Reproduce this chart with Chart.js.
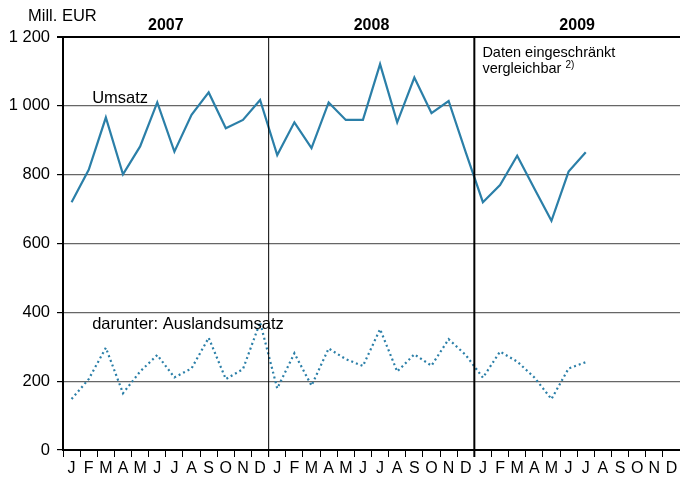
<!DOCTYPE html>
<html lang="de">
<head>
    <meta charset="UTF-8">
    <title>Umsatz</title>
    <script src="https://cdn.jsdelivr.net/npm/chart.js"></script>
    <style>
        body {
            margin: 0;
            padding: 0;
            background-color: #fff;
        }

        .wrap {
            width: 680px;
            height: 480px;
            position: relative;
        }
    </style>
</head>
<body>
    <div class="wrap">
        <canvas id="myChart"></canvas>
    </div>

<script>
    var months = ['J', 'F', 'M', 'A', 'M', 'J', 'J', 'A', 'S', 'O', 'N', 'D'];
    var years = ['2007', '2008', '2009'];
    var labels = months.concat(months, months);

    var umsatz = [
        720, 814, 966, 801, 882, 1010, 867, 974, 1039, 935, 959, 1017,
        857, 952, 877, 1010, 959, 959, 1121, 952, 1082, 979, 1014, 865,
        720, 770, 855, 760, 666, 809, 865, null, null, null, null, null
    ];
    var auslandsumsatz = [
        148, 206, 297, 165, 228, 276, 211, 237, 326, 206, 235, 371,
        179, 281, 187, 295, 264, 244, 351, 228, 278, 245, 322, 276,
        210, 286, 257, 211, 148, 237, 255, null, null, null, null, null
    ];
    var yTicks = [0, 200, 400, 600, 800, 1000, 1200];

    var lineColor = '#2b7fa8';
    var font = "'Liberation Sans', Arial, sans-serif";

    // separators, year labels and notes
    var extras = {
        id: 'extras',
        afterDraw: function(chart) {
            var ctx = chart.ctx;
            var x = chart.scales.x;
            var y = chart.scales.y;
            var area = chart.chartArea;

            ctx.save();
            ctx.strokeStyle = '#000';
            [12, 24].forEach(function(i, n) {
                var px = (x.getPixelForValue(i - 1) + x.getPixelForValue(i)) / 2;
                ctx.lineWidth = n === 0 ? 1 : 2;
                ctx.beginPath();
                ctx.moveTo(px, area.top);
                ctx.lineTo(px, area.bottom + 7);
                ctx.stroke();
            });

            ctx.fillStyle = '#000';
            ctx.textBaseline = 'middle';
            ctx.textAlign = 'center';
            ctx.font = 'bold 16px ' + font;
            years.forEach(function(yr, n) {
                var cx = (x.getPixelForValue(n * 12 + 5) + x.getPixelForValue(n * 12 + 6)) / 2;
                ctx.fillText(yr, cx, area.top - 11);
            });

            ctx.textAlign = 'left';
            ctx.font = '16.5px ' + font;
            ctx.fillText('Mill. EUR', 28, 16);
            ctx.fillText('Umsatz', x.getPixelForValue(1.2), y.getPixelForValue(1020));
            ctx.fillText('darunter: Auslandsumsatz', x.getPixelForValue(1.2), y.getPixelForValue(364));

            ctx.font = '14.5px ' + font;
            var nx = x.getPixelForValue(23.97);
            ctx.fillText('Daten eingeschränkt', nx, y.getPixelForValue(1153));
            ctx.fillText('vergleichbar', nx, y.getPixelForValue(1106));
            var w = ctx.measureText('vergleichbar ').width;
            ctx.font = '10px ' + font;
            ctx.fillText('2)', nx + w, y.getPixelForValue(1106) - 4);
            ctx.restore();
        }
    };

    var ctx = document.getElementById('myChart').getContext('2d');
    var myChart = new Chart(ctx, {
        type: 'line',
        data: {
            labels: labels,
            datasets: [{
                label: 'Umsatz',
                data: umsatz,
                borderColor: lineColor,
                borderWidth: 2.2,
                pointRadius: 0,
                tension: 0,
                spanGaps: false
            }, {
                label: 'darunter: Auslandsumsatz',
                data: auslandsumsatz,
                borderColor: lineColor,
                borderWidth: 2.2,
                borderDash: [2, 3],
                pointRadius: 0,
                tension: 0,
                spanGaps: false
            }]
        },
        options: {
            responsive: true,
            maintainAspectRatio: false,
            animation: false,
            layout: {
                padding: { top: 37, right: 0, left: 0, bottom: 0 }
            },
            plugins: {
                legend: { display: false },
                tooltip: { enabled: false }
            },
            scales: {
                x: {
                    offset: true,
                    afterFit: function(scale) { scale.height = 30; },
                    grid: {
                        offset: true,
                        drawOnChartArea: false,
                        drawTicks: true,
                        tickLength: 7,
                        color: '#000',
                        lineWidth: 1
                    },
                    border: { color: '#000', width: 2 },
                    ticks: {
                        color: '#000',
                        font: { family: font, size: 16 },
                        maxRotation: 0,
                        autoSkip: false,
                        padding: 2
                    }
                },
                y: {
                    min: 0,
                    max: 1200,
                    afterFit: function(scale) { scale.width = 63; },
                    afterBuildTicks: function(scale) {
                        scale.ticks = yTicks.map(function(v) { return { value: v }; });
                    },
                    grid: {
                        drawTicks: true,
                        tickLength: 6,
                        tickColor: '#000',
                        color: function(c) { return c.tick.value === 1200 ? '#000' : '#666'; },
                        lineWidth: function(c) { return c.tick.value === 1200 ? 2 : 1.2; }
                    },
                    border: { color: '#000', width: 2 },
                    ticks: {
                        color: '#000',
                        padding: 7,
                        font: { family: font, size: 16.5 },
                        callback: function(v) {
                            return v >= 1000 ? Math.floor(v / 1000) + ' ' + String(v % 1000).padStart(3, '0') : String(v);
                        }
                    }
                }
            }
        },
        plugins: [extras]
    });
</script>
</body>
</html>
